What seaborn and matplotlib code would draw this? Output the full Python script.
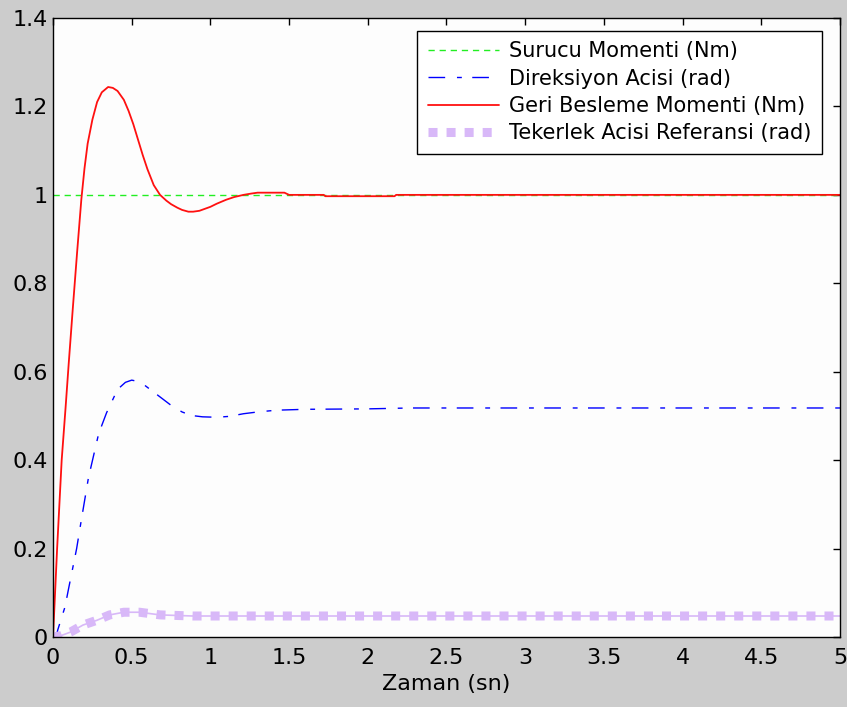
import matplotlib
matplotlib.use("Agg")
import matplotlib.pyplot as plt
import seaborn as sns
import pandas as pd

# Step response data (time in seconds)
t_surucu = [0.0, 5.0]
surucu = [1.0, 1.0]

t_direksiyon = [0.0, 0.02, 0.03, 0.076, 0.097, 0.15, 0.18, 0.225, 0.29, 0.34, 0.41,
                0.46, 0.5, 0.54, 0.58, 0.68, 0.75, 0.82, 0.88, 0.95, 1.04, 1.12,
                1.21, 1.3, 1.42, 1.6, 2.0, 2.27, 5.0]
direksiyon = [0.0, 0.0, 0.016, 0.068, 0.106, 0.2, 0.265, 0.36, 0.46, 0.507, 0.56,
              0.576, 0.581, 0.578, 0.57, 0.543, 0.524, 0.509, 0.501, 0.498, 0.497,
              0.499, 0.505, 0.509, 0.513, 0.515, 0.516, 0.518, 0.518]

t_geri = [0.0, 0.026, 0.055, 0.08, 0.1, 0.125, 0.153, 0.18, 0.2, 0.22, 0.25, 0.28,
          0.31, 0.35, 0.38, 0.41, 0.45, 0.48, 0.51, 0.54, 0.57, 0.6, 0.64, 0.68,
          0.72, 0.75, 0.79, 0.82, 0.86, 0.89, 0.93, 1.0, 1.04, 1.1, 1.15, 1.21,
          1.26, 1.3, 1.47, 1.5, 1.72, 1.73, 2.17, 2.18, 5.0]
geri = [0.0, 0.2, 0.4, 0.52, 0.62, 0.74, 0.87, 0.99, 1.06, 1.116, 1.17, 1.21,
        1.232, 1.244, 1.242, 1.235, 1.215, 1.19, 1.16, 1.125, 1.09, 1.058,
        1.022, 1.0, 0.987, 0.979, 0.971, 0.966, 0.962, 0.962, 0.964, 0.973,
        0.98, 0.989, 0.995, 1.0, 1.003, 1.005, 1.005, 1.0, 1.0, 0.997, 0.997,
        1.0, 1.0]

t_tekerlek = [0.0, 0.05, 0.11, 0.19, 0.28, 0.36, 0.45, 0.55, 0.68, 0.89, 5.0]
tekerlek = [0.0, 0.003, 0.011, 0.027, 0.038, 0.05, 0.056, 0.056, 0.05, 0.0475, 0.0475]

x_ticks = [0, 0.5, 1, 1.5, 2, 2.5, 3, 3.5, 4, 4.5, 5]
x_tick_labels = ["0", "0.5", "1", "1.5", "2", "2.5", "3", "3.5", "4", "4.5", "5"]
y_ticks = [0, 0.2, 0.4, 0.6, 0.8, 1.0, 1.2, 1.4]
y_tick_labels = ["0", "0.2", "0.4", "0.6", "0.8", "1", "1.2", "1.4"]

sns.set_style("white")
plt.rcParams["font.family"] = ["DejaVu Sans"]
plt.rcParams["text.color"] = "black"
plt.rcParams["axes.labelcolor"] = "black"

fig = plt.figure(figsize=(8.47, 7.07), dpi=100, facecolor="#cccccc")
ax = fig.add_axes([0.0626, 0.099, 0.9291, 0.8755])
ax.set_facecolor("#fdfdfd")

df_s = pd.DataFrame({"t": t_surucu, "v": surucu})
df_d = pd.DataFrame({"t": t_direksiyon, "v": direksiyon})
df_g = pd.DataFrame({"t": t_geri, "v": geri})
df_k = pd.DataFrame({"t": t_tekerlek, "v": tekerlek})

sns.lineplot(data=df_s, x="t", y="v", ax=ax, color="#22ee22", lw=1.0,
             linestyle=(0, (4.5, 3.5)), label="Surucu Momenti (Nm)",
             estimator=None, sort=False)
sns.lineplot(data=df_d, x="t", y="v", ax=ax, color="#0000ff", lw=1.0,
             linestyle=(0, (12, 8.5, 3.5, 7.5)), label="Direksiyon Acisi (rad)",
             estimator=None, sort=False)
sns.lineplot(data=df_g, x="t", y="v", ax=ax, color="#ff1010", lw=1.3,
             linestyle="-", label="Geri Besleme Momenti (Nm)",
             estimator=None, sort=False)
# thin connector under the square dots
sns.lineplot(data=df_k, x="t", y="v", ax=ax, color="#d8b8f8", lw=1.2,
             linestyle="-", estimator=None, sort=False, legend=False)
sns.lineplot(data=df_k, x="t", y="v", ax=ax, color="#d8b8f8", lw=6.5,
             linestyle=(0, (1, 1)), label="Tekerlek Acisi Referansi (rad)",
             estimator=None, sort=False)
ax.lines[-1].set_dash_capstyle("butt")

ax.set_xlim(0, 5)
ax.set_ylim(0, 1.4)
ax.set_xticks(x_ticks)
ax.set_xticklabels(x_tick_labels)
ax.set_yticks(y_ticks)
ax.set_yticklabels(y_tick_labels)
ax.tick_params(axis="both", direction="in", length=5, width=1, colors="black",
               labelsize=16, top=True, right=True)
ax.tick_params(axis="x", pad=8)
ax.tick_params(axis="y", pad=4)
for sp in ax.spines.values():
    sp.set_color("black")
    sp.set_linewidth(1.0)

ax.set_xlabel("Zaman (sn)", fontsize=16, labelpad=4, color="black")
ax.set_ylabel("")

leg = ax.legend(loc="upper right", bbox_to_anchor=(0.977, 0.979), borderaxespad=0,
                fontsize=15, handlelength=3.4, handletextpad=0.5, labelspacing=0.35,
                borderpad=0.5, fancybox=False, framealpha=1, edgecolor="black")
leg.get_frame().set_linewidth(1.0)
leg.get_frame().set_facecolor("white")
for txt in leg.get_texts():
    txt.set_color("black")

fig.savefig("out.png", dpi=100, facecolor=fig.get_facecolor())
